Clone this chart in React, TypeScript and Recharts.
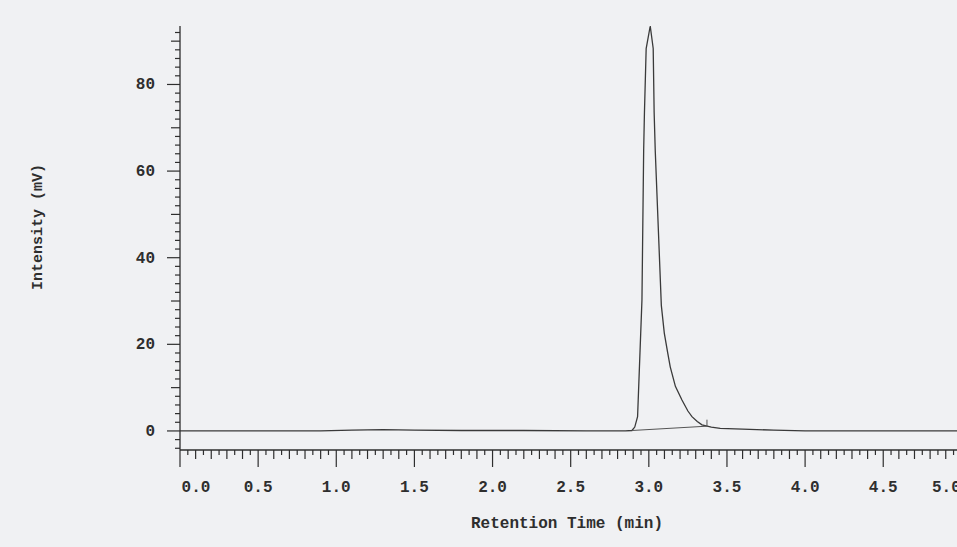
import React from 'react';
import { LineChart, Line, XAxis, YAxis, Label } from 'recharts';

// signal trace (retention time in min, intensity in mV)
const times = [0, 0.5, 0.9, 1.1, 1.3, 1.5, 1.8, 2.2, 2.6, 2.85, 2.892, 2.91, 2.928, 2.956, 2.967, 2.972, 2.983, 3.009, 3.028, 3.034, 3.041, 3.08, 3.099, 3.12, 3.137, 3.17, 3.212, 3.25, 3.276, 3.31, 3.34, 3.4, 3.457, 3.6, 3.8, 4.0, 4.5, 5.1];
const intensity = [0, 0, 0, 0.2, 0.3, 0.2, 0.1, 0.1, 0, 0, 0.1, 0.9, 3.3, 30.2, 64.8, 73.6, 88.3, 93.5, 88.3, 73.6, 64.8, 29, 22.6, 18.2, 14.8, 10.3, 7.15, 4.6, 3.3, 2.2, 1.4, 0.9, 0.6, 0.4, 0.2, 0, 0, 0];

// integration baseline under the peak, with end marker
const baseTimes = [2.892, 3.372, 3.372];
const baseValues = [0.1, 1.1, 2.6];

const xLabels = [0, 0.5, 1.0, 1.5, 2.0, 2.5, 3.0, 3.5, 4.0, 4.5, 5.0];
const yLabels = [0, 20, 40, 60, 80];

const X_STEP = 0.05;
const Y_STEP = 2;

const xTicks: number[] = [];
for (let i = 0; i <= 102; i++) xTicks.push(+(i * X_STEP).toFixed(2));
const yTicks: number[] = [];
for (let v = -4; v <= 92; v += Y_STEP) yTicks.push(v);

const signal = times.map((t, i) => ({ t, v: intensity[i] }));
const baseline = baseTimes.map((t, i) => ({ t, v: baseValues[i] }));

const FONT = "'Liberation Mono', 'Courier New', monospace";
const INK = '#2e2e2e';

const near = (a: number) => Math.abs(a - Math.round(a)) < 1e-6;

const XTick = (props: any) => {
  const { x, y, payload } = props;
  const v = payload.value;
  const major = near(v * 2);
  const mid = near(v * 10);
  const len = major ? 17 : mid ? 9 : 5;
  const showLabel = xLabels.some((l) => Math.abs(l - v) < 1e-6);
  // first and last labels are pulled inward, as on the printout
  const shift = v === 0 ? 16 : Math.abs(v - 5) < 1e-6 ? -15 : 0;
  return (
    <g>
      <line x1={x} x2={x} y1={y} y2={y + len} stroke={INK} strokeWidth={1.2} />
      {showLabel && (
        <text
          x={x + shift}
          y={y + 42}
          textAnchor="middle"
          fontFamily={FONT}
          fontWeight="bold"
          fontSize={16}
          fill={INK}
        >
          {v.toFixed(1)}
        </text>
      )}
    </g>
  );
};

const YTick = (props: any) => {
  const { x, y, payload } = props;
  const v = payload.value;
  const len = v % 20 === 0 ? 13 : v % 10 === 0 ? 9 : 5;
  const showLabel = yLabels.includes(v);
  return (
    <g>
      <line x1={x - len} x2={x} y1={y} y2={y} stroke={INK} strokeWidth={1.2} />
      {showLabel && (
        <text
          x={x - 25}
          y={y + 5}
          textAnchor="end"
          fontFamily={FONT}
          fontWeight="bold"
          fontSize={16}
          fill={INK}
        >
          {v}
        </text>
      )}
    </g>
  );
};

const YTitle = ({ viewBox }: any) => {
  const cx = viewBox.x + 38;
  const cy = viewBox.y + viewBox.height / 2 - 11;
  return (
    <text
      x={cx}
      y={cy}
      transform={`rotate(-90 ${cx} ${cy})`}
      textAnchor="middle"
      dominantBaseline="central"
      fontFamily={FONT}
      fontWeight="bold"
      fontSize={15}
      fill={INK}
    >
      Intensity (mV)
    </text>
  );
};

const XTitle = ({ viewBox }: any) => (
  <text
    x={viewBox.x + 387}
    y={viewBox.y + 78}
    textAnchor="middle"
    fontFamily={FONT}
    fontWeight="bold"
    fontSize={16}
    fill={INK}
  >
    Retention Time (min)
  </text>
);

export default function App() {
  return (
    <div
      style={{
        position: 'fixed',
        left: 0,
        top: 0,
        width: 957,
        height: 547,
        overflow: 'hidden',
        background: '#f0f1f3',
      }}
    >
      <LineChart width={1000} height={547} margin={{ top: 26, right: 23, bottom: 0, left: 0 }}>
        <XAxis
          type="number"
          dataKey="t"
          domain={[0, 5.1]}
          ticks={xTicks}
          interval={0}
          tickSize={0}
          tickMargin={0}
          tickLine={false}
          tick={<XTick />}
          axisLine={{ stroke: INK, strokeWidth: 1.3 }}
          height={97}
          allowDuplicatedCategory={false}
        >
          <Label content={<XTitle />} />
        </XAxis>
        <YAxis
          type="number"
          dataKey="v"
          domain={[-4.4, 93.5]}
          ticks={yTicks}
          interval={0}
          tickSize={0}
          tickMargin={0}
          tickLine={false}
          tick={<YTick />}
          axisLine={{ stroke: INK, strokeWidth: 1.3 }}
          width={180}
        >
          <Label content={<YTitle />} />
        </YAxis>
        <Line
          data={signal}
          dataKey="v"
          type="linear"
          stroke="#3a3a3a"
          strokeWidth={1.3}
          dot={false}
          isAnimationActive={false}
        />
        <Line
          data={baseline}
          dataKey="v"
          type="linear"
          stroke="#555"
          strokeWidth={1}
          dot={false}
          isAnimationActive={false}
        />
      </LineChart>
    </div>
  );
}
